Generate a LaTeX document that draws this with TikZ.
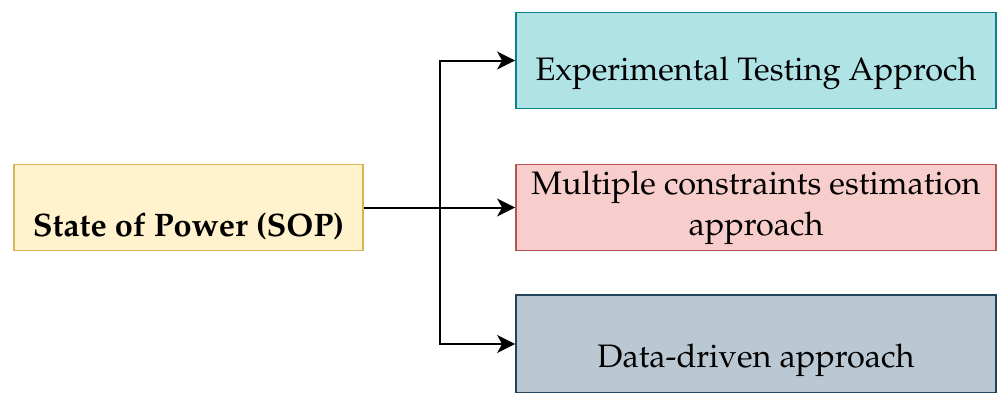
\documentclass[tikz,border=0pt]{standalone}
\usepackage[T1]{fontenc}
\usepackage{mathpazo}
\usetikzlibrary{arrows.meta}
\definecolor{sopfill}{HTML}{FFF2CC}
\definecolor{sopline}{HTML}{D6B656}
\definecolor{expfill}{HTML}{B0E3E6}
\definecolor{expline}{HTML}{0E8088}
\definecolor{mulfill}{HTML}{F8CECC}
\definecolor{mulline}{HTML}{B85450}
\definecolor{datfill}{HTML}{BAC8D3}
\definecolor{datline}{HTML}{23445D}
% lower a label inside its box without changing the box's centring
\newcommand{\lowered}[2]{\raisebox{-#1}[\height][\depth]{#2}}
\tikzset{
  box/.style={draw, line width=1.8pt, rectangle, inner sep=0pt, align=center,
    font=\fontsize{32.5}{41}\selectfont},
  arr/.style={line width=2pt, -{Stealth[length=18pt,width=18pt,inset=5pt]}},
}
\begin{document}
\begin{tikzpicture}[x=1pt,y=-1pt]
\useasboundingbox (0,0) rectangle (997,392);
\node[box, fill=sopfill, draw=sopline, minimum width=349pt, minimum height=86pt]
  (sop) at (188.5,207.5) {\lowered{19pt}{\bfseries State of Power (SOP)}};
\node[box, fill=expfill, draw=expline, minimum width=480pt, minimum height=96pt]
  (exp) at (756,60.5) {\lowered{13pt}{Experimental Testing Approch}};
\node[box, fill=mulfill, draw=mulline, minimum width=480pt, minimum height=86pt]
  (mul) at (756,207.5) {Multiple constraints estimation\\approach};
\node[box, fill=datfill, draw=datline, minimum width=480pt, minimum height=98pt]
  (dat) at (756,344) {\lowered{16pt}{Data-driven approach}};
\coordinate (j) at (440,207.5);
\draw[arr] (sop.east) -- (mul.west);
\draw[arr] (j) |- (exp.west);
\draw[arr] (j) |- (dat.west);
\end{tikzpicture}
\end{document}
